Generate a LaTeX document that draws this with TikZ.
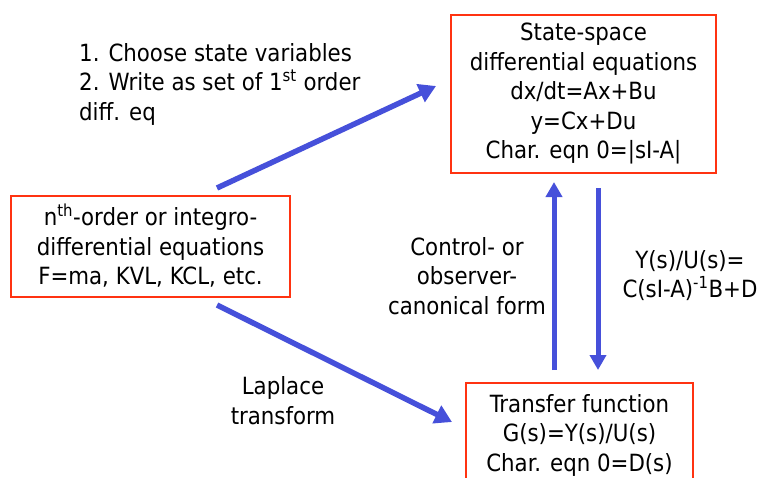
\documentclass[tikz,border=0pt]{standalone}
\usepackage{fontspec}
\setmainfont{DejaVu Sans Condensed}
\usetikzlibrary{arrows.meta}
\definecolor{boxred}{RGB}{255,51,17}
\definecolor{flowblue}{RGB}{70,80,218}
\begin{document}
\begin{tikzpicture}[x=1pt,y=-1pt,
  every node/.style={font=\fontsize{23.7}{29.5}\selectfont, align=center, inner sep=0pt},
  eqbox/.style={draw=boxred, line width=2pt, fill=white},
  flow/.style={draw=flowblue, line width=5.5pt, -{Triangle[length=17pt,width=19pt]}},
  vflow/.style={draw=flowblue, line width=5pt, -{Triangle[length=15pt,width=16pt]}},
]
\useasboundingbox (0,0) rectangle (765,477);

% the three forms of the model
\node[eqbox, minimum width=265pt, minimum height=158pt] (ss) at (583.5,93.5)
  {State-space\\differential equations\\dx/dt=Ax+Bu\\y=Cx+Du\\Char. eqn 0=|sI-A|};
\node[eqbox, minimum width=279pt, minimum height=101pt] (ode) at (150.5,246)
  {n\textsuperscript{th}-order or integro-\\differential equations\\F=ma, KVL, KCL, etc.};
\node[eqbox, minimum width=227pt, minimum height=104pt] (tf) at (579.5,435)
  {Transfer function\\G(s)=Y(s)/U(s)\\Char. eqn 0=D(s)};

% arrow end points
\coordinate (odeUp) at (217,188);
\coordinate (ssIn) at (436,86);
\coordinate (odeDown) at (217,305);
\coordinate (tfIn) at (452,422);
\coordinate (tfUp) at (554,370);
\coordinate (ssUp) at (554,182);
\coordinate (ssDown) at (598,188);
\coordinate (tfDown) at (598,370);

\draw[flow] (odeUp) -- (ssIn);
\draw[flow] (odeDown) -- (tfIn);
\draw[vflow] (tfUp) -- (ssUp);
\draw[vflow] (ssDown) -- (tfDown);

% labels
\node[align=left, anchor=west] (steps) at (79,84)
  {1. Choose state variables\\2. Write as set of 1\textsuperscript{st} order\\diff. eq};
\node (canon) at (467,276) {Control- or\\observer-\\canonical form};
\node (tfform) at (690,275.5) {Y(s)/U(s)=\\C(sI-A)\textsuperscript{-1}B+D};
\node (laplace) at (283,400.5) {Laplace\\transform};
\end{tikzpicture}
\end{document}
